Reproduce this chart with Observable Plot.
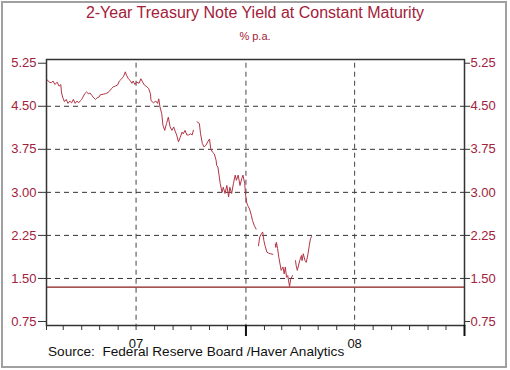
<!DOCTYPE html>
<html><head><meta charset="utf-8">
<script src="https://cdn.jsdelivr.net/npm/d3@7"></script>
<script src="https://cdn.jsdelivr.net/npm/@observablehq/plot@0.6"></script>
<style>
html,body{margin:0;padding:0;background:#fff;}
#page{position:relative;width:510px;height:370px;font-family:"Liberation Sans",Arial,sans-serif;overflow:hidden;}
#border{position:absolute;left:1px;top:1px;width:506px;height:367px;box-sizing:border-box;border:2px solid #a0a0a0;}
.t{position:absolute;line-height:1;white-space:pre;}
#title{left:0;width:510px;text-align:center;top:5px;font-size:16px;color:#a3213a;}
#sub{left:0;width:510px;text-align:center;top:31px;font-size:11px;color:#a3213a;}
#source{left:48px;top:344.5px;font-size:13.6px;color:#111;}
#chart{position:absolute;left:0;top:0;}
</style></head><body>
<div id="page">
<div id="border"></div>
<div id="chart"></div>
<div class="t" id="title">2-Year Treasury Note Yield at Constant Maturity</div>
<div class="t" id="sub">% p.a.</div>
<div class="t" id="source">Source:  Federal Reserve Board /Haver Analytics</div>
</div>
<script>
const dates = ["2007-02-01","2007-02-06","2007-02-09","2007-02-12","2007-02-15","2007-02-19","2007-02-22","2007-02-25","2007-02-26","2007-02-28",
"2007-03-03","2007-03-06","2007-03-09","2007-03-12","2007-03-15","2007-03-18","2007-03-21","2007-03-24","2007-03-27","2007-03-30",
"2007-04-01","2007-04-03","2007-04-06","2007-04-09","2007-04-12","2007-04-15","2007-04-18","2007-04-20","2007-04-24","2007-04-27","2007-04-30",
"2007-05-02","2007-05-07","2007-05-11","2007-05-15","2007-05-18","2007-05-21","2007-05-24","2007-05-27","2007-05-31",
"2007-06-03","2007-06-07","2007-06-10","2007-06-13","2007-06-15","2007-06-18","2007-06-21","2007-06-24","2007-06-26","2007-06-29",
"2007-07-02","2007-07-06","2007-07-09","2007-07-12","2007-07-15","2007-07-19","2007-07-22","2007-07-25","2007-07-26","2007-07-30",
"2007-08-03","2007-08-06","2007-08-08","2007-08-10","2007-08-13","2007-08-15","2007-08-18","2007-08-21","2007-08-24","2007-08-27","2007-08-30",
"2007-09-02","2007-09-05","2007-09-07","2007-09-10","2007-09-13","2007-09-16","2007-09-18","2007-09-21","2007-09-24","2007-09-27","2007-09-30",
"2007-10-03","2007-10-05","2007-10-08","2007-10-11","2007-10-15","2007-10-17","2007-10-20","2007-10-23","2007-10-26","2007-10-29",
"2007-11-01","2007-11-03","2007-11-06","2007-11-09","2007-11-12","2007-11-13","2007-11-15","2007-11-17","2007-11-19","2007-11-22","2007-11-24","2007-11-27","2007-11-30",
"2007-12-03","2007-12-05","2007-12-08","2007-12-11","2007-12-14","2007-12-16","2007-12-19","2007-12-22","2007-12-25","2007-12-27","2007-12-30","2007-12-31",
"2008-01-02","2008-01-04","2008-01-07","2008-01-10","2008-01-12","2008-01-15","2008-01-18","2008-01-21","2008-01-22","2008-01-24","2008-01-27","2008-01-29","2008-01-31",
"2008-02-02","2008-02-05","2008-02-08","2008-02-11","2008-02-15","2008-02-18","2008-02-19","2008-02-20","2008-02-21","2008-02-23","2008-02-25","2008-02-28","2008-02-29",
"2008-03-03","2008-03-05","2008-03-07","2008-03-09","2008-03-11","2008-03-14","2008-03-16","2008-03-19","2008-03-21","2008-03-24","2008-03-25","2008-03-27","2008-03-31",
"2008-04-03","2008-04-04","2008-04-06","2008-04-09","2008-04-11","2008-04-14","2008-04-16","2008-04-18","2008-04-20"];
const yields = [4.97,4.92,4.91,4.94,4.88,4.92,4.85,4.88,4.75,4.66,
4.58,4.62,4.55,4.59,4.56,4.62,4.55,4.59,4.56,4.60,
4.62,4.66,4.72,4.75,4.72,4.73,4.69,4.66,4.62,4.65,4.66,
4.70,4.71,4.72,4.74,4.77,4.81,4.84,4.85,4.87,
4.94,4.98,5.02,5.10,5.04,4.98,4.95,4.90,4.94,4.88,
4.92,4.90,4.98,4.92,4.87,4.84,4.81,4.72,4.60,4.56,
4.59,4.55,4.63,4.49,4.37,4.17,4.08,4.20,4.31,4.14,4.08,
4.14,4.05,4.00,3.88,3.96,4.05,4.02,4.08,4.00,4.00,4.02,
4.00,4.08,NaN,4.23,4.20,4.02,3.85,3.79,3.82,3.88,
3.93,3.76,3.70,3.67,3.56,3.47,3.44,3.30,3.15,3.00,3.09,2.98,3.12,
2.92,3.09,2.98,3.15,3.30,3.21,3.30,3.12,3.24,3.30,3.15,3.00,
2.83,2.77,2.71,2.60,2.51,2.42,2.36,NaN,2.07,2.22,2.28,2.31,2.16,
2.07,1.96,1.94,1.93,1.92,NaN,2.10,2.04,2.13,2.02,1.87,1.70,1.64,
1.70,1.58,1.70,1.52,1.55,1.36,1.49,1.55,NaN,1.81,1.73,1.64,1.81,
1.90,1.81,1.93,1.81,1.78,1.93,2.07,2.19,2.23];
const refLevel = 1.35;
const yTicks = [0.75,1.50,2.25,3.00,3.75,4.50,5.25];
const yGrid = [1.50,2.25,3.00,3.75,4.50];
const xGrid = ["2007-07-01","2008-01-01","2008-07-01"];
const yearLabelDates = ["2007-07-01","2008-07-01"];
const yearLabels = ["07","08"];
const majorTickDates = ["2008-01-01","2009-01-01"];
const xStart = "2007-02-01", xEnd = "2009-01-01";

const toDate = s => new Date(s + "T00:00:00Z");
const rows = dates.map((d,i) => ({date: toDate(d), value: yields[i]}));
const monthTicks = d3.utcMonth.range(toDate(xStart), new Date(toDate(xEnd).getTime()+86400000));
const labelMap = new Map(yearLabelDates.map((d,i)=>[toDate(d).getTime(), yearLabels[i]]));
const red = "#a3213a";

const chart = Plot.plot({
  width: 510, height: 370,
  marginTop: 59, marginBottom: 45, marginLeft: 46, marginRight: 46,
  style: {background: "transparent", fontFamily: "Liberation Sans, Arial, sans-serif", overflow: "visible"},
  x: {type: "utc", domain: [toDate(xStart), toDate(xEnd)]},
  y: {domain: [0.68, 5.315]},
  marks: [
    Plot.ruleY(yGrid, {stroke: "#333", strokeDasharray: "5,4", strokeWidth: 1}),
    Plot.ruleX(xGrid.map(toDate), {y1: 5.25, y2: 0.68, stroke: "#444", strokeDasharray: "5,4", strokeWidth: 1}),
    Plot.ruleY([refLevel], {stroke: "#8b1a1a", strokeWidth: 1.2}),
    Plot.line(rows, {x: "date", y: "value", stroke: "#b33445", strokeWidth: 1}),
    Plot.frame({stroke: "#333", strokeWidth: 1.5}),
    Plot.axisY({anchor: "left", ticks: yTicks, tickFormat: d => d.toFixed(2), tickSize: 8, tickPadding: 2, fill: red, stroke: "#333", fontSize: 13, label: null}),
    Plot.axisY({anchor: "right", ticks: yTicks, tickFormat: d => d.toFixed(2), tickSize: 5, tickPadding: 1, fill: red, stroke: "#333", fontSize: 13, label: null}),
    Plot.axisX({ticks: monthTicks, tickSize: 5, tickFormat: () => "", stroke: "#333", label: null}),
    Plot.axisX({ticks: majorTickDates.map(toDate), tickSize: 11, strokeWidth: 2, tickFormat: () => "", stroke: "#111", label: null}),
    Plot.axisX({ticks: yearLabelDates.map(toDate), tickSize: 0, tickPadding: 13, tickFormat: d => labelMap.get(d.getTime()), fill: "#111", fontSize: 13, label: null})
  ]
});
document.getElementById("chart").appendChild(chart);
</script>
</body></html>
